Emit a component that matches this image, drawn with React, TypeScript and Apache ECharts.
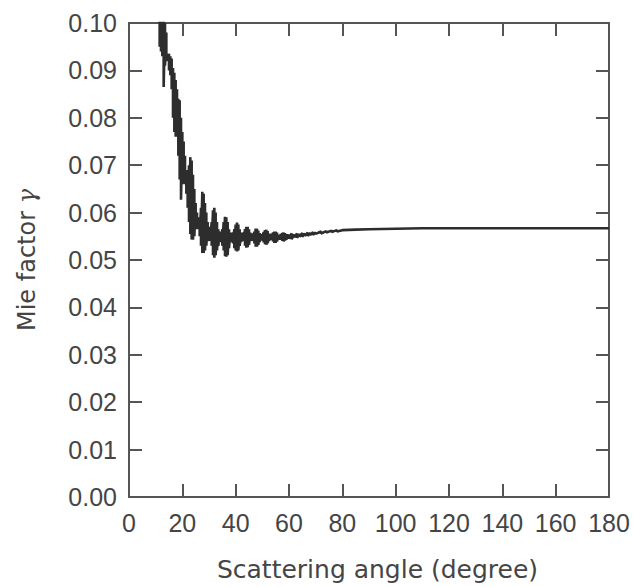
import { useEffect, useRef } from "react";
import * as echarts from "echarts";

// Oscillating region: each angle has an upper and a lower envelope value of the ripple
const envAngles = [
  11.5, 12, 12.5, 13, 13.5, 14, 14.5, 15, 15.5, 16, 16.5, 17, 17.5, 18, 18.5, 19, 19.5, 20,
  20.5, 21, 21.5, 22, 22.5, 23, 23.5, 24, 24.5, 25, 25.5, 26, 26.5, 27, 27.5, 28, 28.5, 29,
  29.5, 30, 30.5, 31, 31.5, 32, 32.5, 33, 33.5, 34, 34.5, 35, 35.5, 36, 36.5, 37, 37.5, 38,
  38.5, 39, 39.5, 40, 40.5, 41, 41.5, 42, 42.5, 43, 43.5, 44, 44.5, 45, 45.5, 46, 46.5, 47,
  47.5, 48, 48.5, 49, 49.5, 50, 50.5, 51, 51.5, 52, 52.5, 53, 53.5, 54, 54.5, 55, 55.5, 56,
  56.5, 57, 57.5, 58, 58.5, 59, 59.5, 60, 61, 62, 63, 64, 65, 66, 67, 68, 69, 70, 72, 74, 76, 78,
];
const envUpper = [
  0.104, 0.104, 0.103, 0.101, 0.1, 0.098, 0.0935, 0.0935, 0.093, 0.0925, 0.0905, 0.0895, 0.088,
  0.086, 0.084, 0.0837, 0.08, 0.077, 0.075, 0.072, 0.069, 0.068, 0.07, 0.0717, 0.071, 0.068,
  0.065, 0.062, 0.06, 0.059, 0.059, 0.061, 0.0644, 0.064, 0.062, 0.06, 0.058, 0.057, 0.0565,
  0.058, 0.0605, 0.061, 0.06, 0.058, 0.0565, 0.056, 0.0558, 0.0565, 0.058, 0.0591, 0.059, 0.058,
  0.0565, 0.0558, 0.0555, 0.0558, 0.0565, 0.0575, 0.0579, 0.0575, 0.0565, 0.0558, 0.0555,
  0.0558, 0.0565, 0.057, 0.057, 0.0565, 0.0558, 0.0554, 0.0556, 0.056, 0.0566, 0.0566, 0.0562,
  0.0557, 0.0553, 0.0555, 0.0559, 0.0563, 0.0564, 0.0561, 0.0556, 0.0553, 0.0555, 0.0558, 0.056,
  0.056, 0.0558, 0.0554, 0.0553, 0.0555, 0.0557, 0.0558, 0.0557, 0.0555, 0.0553, 0.0554, 0.0556,
  0.0554, 0.0556, 0.0555, 0.0557, 0.0556, 0.0558, 0.0557, 0.0559, 0.0558, 0.056, 0.0561, 0.0562,
  0.0563,
];
const envLower = [
  0.095, 0.094, 0.093, 0.0865, 0.091, 0.092, 0.0925, 0.09, 0.089, 0.086, 0.08, 0.077, 0.076,
  0.076, 0.072, 0.067, 0.0627, 0.066, 0.0665, 0.066, 0.064, 0.061, 0.058, 0.0555, 0.0543,
  0.0543, 0.055, 0.0565, 0.057, 0.0565, 0.055, 0.053, 0.0515, 0.0515, 0.052, 0.053, 0.054,
  0.0545, 0.054, 0.053, 0.051, 0.0505, 0.051, 0.052, 0.053, 0.0538, 0.054, 0.053, 0.052, 0.0508,
  0.0507, 0.051, 0.0525, 0.0538, 0.054, 0.0535, 0.0525, 0.052, 0.0518, 0.052, 0.053, 0.0538,
  0.0542, 0.054, 0.053, 0.0526, 0.0527, 0.0532, 0.054, 0.0543, 0.054, 0.0535, 0.0528, 0.0528,
  0.0532, 0.0538, 0.0543, 0.0541, 0.0537, 0.0533, 0.0532, 0.0535, 0.054, 0.0544, 0.0542, 0.0539,
  0.0536, 0.0536, 0.0539, 0.0543, 0.0545, 0.0542, 0.054, 0.0539, 0.0541, 0.0543, 0.0546, 0.0545,
  0.0544, 0.0548, 0.0547, 0.0549, 0.0549, 0.0551, 0.0551, 0.0553, 0.0553, 0.0555, 0.0556,
  0.0558, 0.0559, 0.056,
];
// Smooth tail
const tailAngles = [80, 85, 90, 100, 110, 120, 140, 160, 180];
const tailGamma = [0.0563, 0.0564, 0.0565, 0.0566, 0.0567, 0.0567, 0.0567, 0.0567, 0.0567];

const xTitle = "Scattering angle (degree)";
const yTitle = "Mie factor {g|γ}";

export default function App() {
  const ref = useRef<HTMLDivElement>(null);
  useEffect(() => {
    document.body.style.margin = "0";
    const chart = echarts.init(ref.current!, null, { renderer: "svg" });
    const data: number[][] = [];
    envAngles.forEach((a, i) => {
      data.push([a, envUpper[i]]);
      data.push([a, envLower[i]]);
    });
    tailAngles.forEach((a, i) => data.push([a, tailGamma[i]]));

    const axisColor = "#555";
    const textColor = "#454545";
    const tickFont = "'Liberation Sans', Arial, sans-serif";
    const frameLine = { show: true, onZero: false, lineStyle: { color: axisColor, width: 2 } };
    const tick = { show: true, inside: true, length: 13, lineStyle: { color: axisColor, width: 2 } };

    chart.setOption({
      animation: false,
      backgroundColor: "#fff",
      grid: { left: 129, right: 24, top: 23, bottom: 89 },
      xAxis: [
        {
          type: "value",
          min: 0,
          max: 180,
          interval: 20,
          position: "bottom",
          axisLine: frameLine,
          axisTick: tick,
          splitLine: { show: false },
          axisLabel: { fontSize: 25, color: textColor, fontFamily: tickFont, margin: 13 },
          name: xTitle,
          nameLocation: "middle",
          nameGap: 60,
          nameTextStyle: {
            fontSize: 25,
            color: textColor,
            fontFamily: "'DejaVu Sans', sans-serif",
            padding: [0, 0, 0, 17],
          },
        },
        {
          type: "value",
          min: 0,
          max: 180,
          interval: 20,
          position: "top",
          axisLine: frameLine,
          axisTick: tick,
          splitLine: { show: false },
          axisLabel: { show: false },
        },
      ],
      yAxis: [
        {
          type: "value",
          min: 0,
          max: 0.1,
          interval: 0.01,
          position: "left",
          axisLine: frameLine,
          axisTick: tick,
          splitLine: { show: false },
          axisLabel: {
            fontSize: 25,
            color: textColor,
            fontFamily: tickFont,
            margin: 12,
            formatter: (v: number) => v.toFixed(2),
          },
          name: yTitle,
          nameLocation: "middle",
          nameGap: 90,
          nameTextStyle: {
            fontSize: 24,
            color: textColor,
            fontFamily: "'DejaVu Sans', sans-serif",
            rich: {
              g: {
                fontSize: 24,
                color: textColor,
                fontStyle: "italic",
                fontFamily: "'DejaVu Serif', serif",
              },
            },
          },
        },
        {
          type: "value",
          min: 0,
          max: 0.1,
          interval: 0.01,
          position: "right",
          axisLine: frameLine,
          axisTick: tick,
          splitLine: { show: false },
          axisLabel: { show: false },
        },
      ],
      series: [
        {
          type: "line",
          data,
          xAxisIndex: 0,
          yAxisIndex: 0,
          showSymbol: false,
          symbol: "none",
          clip: true,
          lineStyle: { color: "#2d2d2d", width: 2.6 },
        },
      ],
    });
    return () => chart.dispose();
  }, []);
  return <div ref={ref} style={{ width: 633, height: 587 }} />;
}
